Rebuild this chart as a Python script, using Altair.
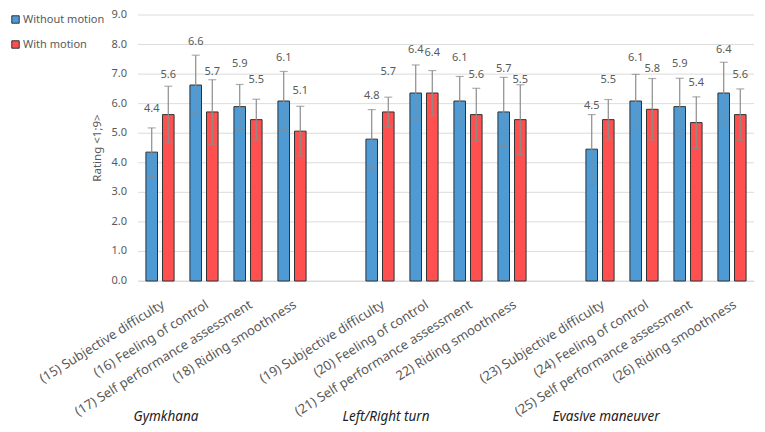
import altair as alt
import pandas as pd

items = [
    "(15) Subjective difficulty", "(16) Feeling of control",
    "(17) Self performance assessment", "(18) Riding smoothness",
    "(19) Subjective difficulty", "(20) Feeling of control",
    "(21) Self performance assessment", "22) Riding smoothness",
    "(23) Subjective difficulty", "(24) Feeling of control",
    "(25) Self performance assessment", "(26) Riding smoothness",
]
groups = ["Gymkhana", "Left/Right turn", "Evasive maneuver"]
series = ["Without motion", "With motion"]
without_vals = [4.36, 6.63, 5.90, 6.09, 4.80, 6.36, 6.09, 5.72, 4.46, 6.09, 5.90, 6.36]
with_vals = [5.63, 5.72, 5.46, 5.07, 5.72, 6.36, 5.63, 5.46, 5.46, 5.81, 5.36, 5.63]
without_err = [0.82, 1.01, 0.75, 1.00, 1.00, 0.95, 0.83, 1.17, 1.17, 0.90, 0.96, 1.04]
with_err = [0.96, 1.09, 0.69, 0.84, 0.50, 0.76, 0.89, 1.18, 0.68, 1.04, 0.87, 0.87]
y_ticks = [0, 1, 2, 3, 4, 5, 6, 7, 8, 9]
y_title = "Rating <1;9>"

# category domain with blank spacer slots between the groups
domain = items[0:4] + [" "] + items[4:8] + ["  "] + items[8:12]

rows = []
for i, it in enumerate(items):
    for s, vals, errs in ((series[0], without_vals, without_err), (series[1], with_vals, with_err)):
        rows.append({"item": it, "series": s, "value": vals[i],
                     "lo": vals[i] - errs[i], "hi": vals[i] + errs[i]})
df = pd.DataFrame(rows)
gdf = pd.DataFrame({"item": [items[0], items[4], items[8]], "group": groups})
tdf = pd.DataFrame({"value": y_ticks})

FONT = "Noto Sans"
GRAY = "#595959"
ERR = "#8c8c8c"
W, H = 616, 266

x_scale = alt.Scale(domain=domain, paddingInner=0.36, paddingOuter=0.18)
x = alt.X("item:N", scale=x_scale,
          axis=alt.Axis(title=None, labelAngle=-32, labelAlign="right", labelFontSize=13,
                        labelColor=GRAY, labelFont=FONT, ticks=False, labelPadding=17,
                        domainColor="#d9d9d9", labelLimit=300))
xo = alt.XOffset("series:N", scale=alt.Scale(domain=series, paddingInner=0.3, paddingOuter=0))
color = alt.Color("series:N", scale=alt.Scale(domain=series, range=["#4e9ad4", "#ff5050"]),
                  legend=alt.Legend(title=None, orient="none", legendX=-128, legendY=-1,
                                    symbolType="square", symbolSize=55, symbolStrokeColor="#333333",
                                    symbolStrokeWidth=1, labelFontSize=11, labelColor=GRAY,
                                    labelFont=FONT, rowPadding=12, symbolOffset=0, labelOffset=2))
y_scale = alt.Scale(domain=[0, 9], nice=False, zero=True)


def Y(field):
    return alt.Y(field, scale=y_scale, axis=None)


# gridlines and y tick labels drawn through the y scale
grid = alt.Chart(tdf).mark_rule(color="#dcdcdc", strokeWidth=1).encode(y=Y("value:Q"))
ylabels = alt.Chart(tdf).mark_text(fontSize=11, color=GRAY, font=FONT, align="right",
                                   baseline="middle").encode(
    y=Y("value:Q"), x=alt.value(-11), text=alt.Text("value:Q", format=".1f"))
ytitle = alt.Chart(pd.DataFrame({"t": [y_title]})).mark_text(
    fontSize=11.5, color=GRAY, font=FONT, angle=270, align="center", baseline="middle").encode(
    x=alt.value(-40), y=alt.value(H / 2), text="t:N")

base = alt.Chart(df)
bars = base.mark_bar(stroke="#333333", strokeWidth=1).encode(x=x, xOffset=xo, y=Y("value:Q"), color=color)
err = base.mark_rule(color=ERR, strokeWidth=1.2).encode(
    x=x, xOffset=xo, y=Y("lo:Q"), y2="hi:Q")
cap_hi = base.mark_tick(color=ERR, size=8, thickness=1.2).encode(
    x=x, xOffset=xo, y=Y("hi:Q"))
cap_lo = base.mark_tick(color=ERR, size=8, thickness=1.2).encode(
    x=x, xOffset=xo, y=Y("lo:Q"))
labels_a = base.transform_filter(alt.datum.series == series[0]).mark_text(
    fontSize=11, color=GRAY, font=FONT, baseline="middle", dy=-43).encode(
    x=x, xOffset=xo, y=Y("value:Q"), text=alt.Text("value:Q", format=".1f"))
labels_b = base.transform_filter(alt.datum.series == series[1]).mark_text(
    fontSize=11, color=GRAY, font=FONT, baseline="middle", dy=-40).encode(
    x=x, xOffset=xo, y=Y("value:Q"), text=alt.Text("value:Q", format=".1f"))
glabels = alt.Chart(gdf).mark_text(fontSize=13.5, fontStyle="italic", color="#222222", font=FONT,
                                   baseline="middle", align="center", dx=6).encode(
    x=x, y=alt.value(402), text="group:N")

chart = alt.layer(grid, ylabels, ytitle, bars, err, cap_hi, cap_lo, labels_a, labels_b, glabels).properties(
    width=W, height=H,
    autosize=alt.AutoSizeParams(type="none"),
    padding={"left": 138, "top": 15, "right": 11, "bottom": 151},
).configure_view(stroke=None)

chart.save("out.html", embed_options={"renderer": "svg", "actions": False})
